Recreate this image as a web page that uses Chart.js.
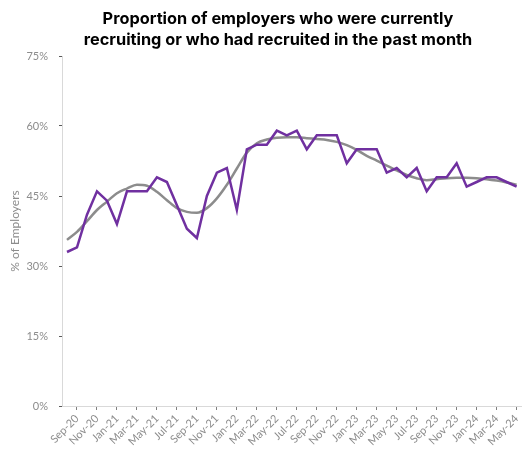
<!DOCTYPE html>
<html>
<head>
<meta charset="utf-8">
<script src="https://cdn.jsdelivr.net/npm/chart.js@4.4.0/dist/chart.umd.min.js"></script>
<style>
  html, body { margin: 0; padding: 0; background: #fff; }
  #wrap { width: 528px; height: 450px; }
</style>
</head>
<body>
<div id="wrap"><canvas id="chart" width="528" height="450"></canvas></div>
<script>
// monthly categories, Aug-20 .. May-24 (labels shown every other month)
const months = [
  'Aug-20', 'Sep-20', 'Oct-20', 'Nov-20', 'Dec-20',
  'Jan-21', 'Feb-21', 'Mar-21', 'Apr-21', 'May-21', 'Jun-21', 'Jul-21', 'Aug-21', 'Sep-21', 'Oct-21', 'Nov-21', 'Dec-21',
  'Jan-22', 'Feb-22', 'Mar-22', 'Apr-22', 'May-22', 'Jun-22', 'Jul-22', 'Aug-22', 'Sep-22', 'Oct-22', 'Nov-22', 'Dec-22',
  'Jan-23', 'Feb-23', 'Mar-23', 'Apr-23', 'May-23', 'Jun-23', 'Jul-23', 'Aug-23', 'Sep-23', 'Oct-23', 'Nov-23', 'Dec-23',
  'Jan-24', 'Feb-24', 'Mar-24', 'Apr-24', 'May-24'
];

// % of employers recruiting (monthly)
const recruiting = [
  33, 34, 41, 46, 44, 39, 46, 46, 46, 49,
  48, 43, 38, 36, 45, 50, 51, 42, 55, 56,
  56, 59, 58, 59, 55, 58, 58, 58, 52, 55,
  55, 55, 50, 51, 49, 51, 46, 49, 49, 52,
  47, 48, 49, 49, 48, 47
];

// smoothed trend
const trend = [
  35.6, 37.3, 39.6, 42.0, 43.8, 45.6, 46.6, 47.4, 47.2, 45.9,
  44.1, 42.4, 41.6, 41.4, 42.4, 44.5, 47.4, 50.9, 54.3, 56.3,
  57.1, 57.5, 57.6, 57.6, 57.4, 57.2, 57.0, 56.6, 55.9, 54.9,
  53.6, 52.6, 51.5, 50.5, 49.5, 48.8, 48.4, 48.6, 48.8, 48.9,
  48.9, 48.8, 48.6, 48.3, 47.9, 47.4
];

const yTicks = [0, 15, 30, 45, 60, 75];

const titleLines = [
  'Proportion of employers who were currently',
  'recruiting or who had recruited in the past month'
];

const tickColor = '#8c8c8c';
const fontFamily = 'Lato, "Open Sans", sans-serif';
const titleFamily = 'Inter, "Open Sans", sans-serif';

// title drawn by hand so it can sit over the plot like the original
const titlePlugin = {
  id: 'twoLineTitle',
  afterDraw(chart) {
    const ctx = chart.ctx;
    ctx.save();
    ctx.fillStyle = '#000';
    ctx.font = 'bold 16px ' + titleFamily;
    // fit the first line to about 351px like the original
    const w = ctx.measureText(titleLines[0]).width;
    const size = Math.max(12, Math.min(20, 16 * 351 / w));
    ctx.font = 'bold ' + size.toFixed(2) + 'px ' + titleFamily;
    ctx.textAlign = 'center';
    ctx.textBaseline = 'alphabetic';
    ctx.fillText(titleLines[0], 278, 24);
    ctx.fillText(titleLines[1], 278, 45);
    ctx.restore();
  }
};

new Chart(document.getElementById('chart'), {
  type: 'line',
  data: {
    labels: months,
    datasets: [
      {
        label: 'Recruiting',
        data: recruiting,
        borderColor: '#7030a0',
        borderWidth: 2.5,
        pointRadius: 0,
        tension: 0,
        order: 0
      },
      {
        label: 'Trend',
        data: trend,
        borderColor: '#8c8c8c',
        borderWidth: 2.5,
        pointRadius: 0,
        cubicInterpolationMode: 'monotone',
        order: 1
      }
    ]
  },
  options: {
    responsive: false,
    animation: false,
    layout: { padding: { top: 56, right: 5, bottom: 0, left: 0 } },
    plugins: {
      legend: { display: false },
      tooltip: { enabled: false },
      title: { display: false }
    },
    scales: {
      x: {
        type: 'category',
        offset: true,
        afterFit(scale) { scale.height = 44; },
        border: { color: '#d9d9d9', width: 1 },
        grid: {
          offset: false,
          drawOnChartArea: false,
          tickLength: 4,
          color: (c) => (c.index % 2 === 1 ? '#7f7f7f' : 'rgba(0,0,0,0)')
        },
        ticks: {
          autoSkip: false,
          minRotation: 45,
          maxRotation: 45,
          padding: 2,
          color: tickColor,
          font: { family: fontFamily, size: 11 },
          callback: (v, i) => (i % 2 === 1 ? months[i] : '')
        }
      },
      y: {
        min: 0,
        max: 75,
        afterFit(scale) { scale.width = 62; },
        afterBuildTicks(scale) { scale.ticks = yTicks.map(v => ({ value: v })); },
        border: { color: '#d9d9d9', width: 1 },
        grid: {
          drawOnChartArea: false,
          tickLength: 3,
          color: '#595959'
        },
        ticks: {
          padding: 11,
          color: tickColor,
          font: { family: fontFamily, size: 11 },
          callback: (v) => v + '%'
        },
        title: {
          display: true,
          text: '% of Employers',
          color: tickColor,
          font: { family: fontFamily, size: 12 },
          padding: { top: 8, bottom: 0 }
        }
      }
    }
  },
  plugins: [titlePlugin]
});
</script>
</body>
</html>
